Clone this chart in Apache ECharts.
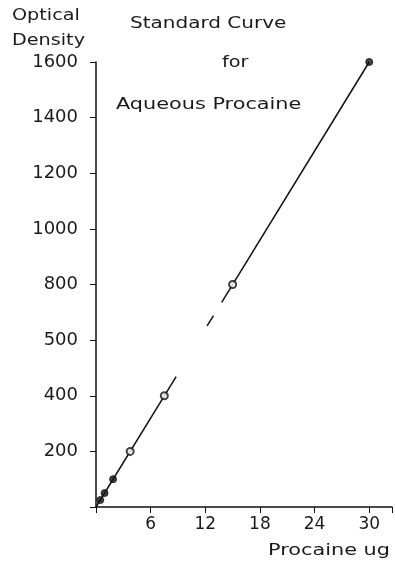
<!DOCTYPE html>
<html><head><meta charset="utf-8">
<script src="https://cdn.jsdelivr.net/npm/echarts@6/dist/echarts.min.js"></script>
<style>html,body{margin:0;padding:0;background:#fff}#c{width:395px;height:570px}</style>
</head><body><div id="c"></div>
<script>
// Data
const procaineUg = [0.47, 0.94, 1.875, 3.75, 7.5, 15, 30];
const opticalDensity = [25, 50, 100, 200, 400, 800, 1600];
const openPointIndex = [3, 4, 5];
// drawn standard line, broken in the original figure
const lineSeg1 = [[0, 0], [8.8, 469]];
const lineSeg2 = [[12.2, 651], [12.9, 688]];
const lineSeg3 = [[13.8, 736], [30, 1600]];
const yTickLabels = {200: '200', 400: '400', 600: '500', 800: '800', 1000: '1000', 1200: '1200', 1400: '1400', 1600: '1600'};
const xTickLabels = {6: '6', 12: '12', 18: '18', 24: '24', 30: '30'};

const FONT = 'DejaVu Sans';
const INK = '#111';
const TXT = '#1a1a1a';
const chart = echarts.init(document.getElementById('c'), null, {renderer: 'canvas'});
const pts = procaineUg.map((x, i) => ({
  value: [x, opticalDensity[i]],
  itemStyle: openPointIndex.includes(i)
    ? {color: '#fff', borderColor: INK, borderWidth: 2}
    : {color: INK, borderColor: INK, borderWidth: 1}
}));
const lineStyle = {color: INK, width: 1.5};
function seg(d){return {type:'line', data:d, symbol:'none', lineStyle, silent:true, z:2};}
const tfont = '16px "DejaVu Sans"';
function txt(text, x, y, sx){
  return {type:'text', x, y, scaleX: sx, style:{text, font: tfont, fill: TXT, textVerticalAlign:'middle'}};
}
chart.setOption({
  animation: false,
  grid: {left: 96, right: 0, top: 62, bottom: 63},
  xAxis: {
    type: 'value', min: 0, max: 32.5, interval: 6,
    axisLine: {lineStyle: {color: INK, width: 1.5}},
    axisTick: {show: true, length: 6, lineStyle: {color: INK}},
    splitLine: {show: false},
    axisLabel: {color: TXT, fontFamily: FONT, fontSize: 17, margin: 9,
      formatter: v => xTickLabels[v] || ''}
  },
  yAxis: {
    type: 'value', min: 0, max: 1600, interval: 200,
    axisLine: {show: true, lineStyle: {color: INK, width: 1.5}},
    axisTick: {show: true, length: 6, lineStyle: {color: INK}},
    splitLine: {show: false},
    axisLabel: {color: TXT, fontFamily: FONT, fontSize: 18, margin: 18,
      formatter: v => yTickLabels[v] || ''}
  },
  series: [
    seg(lineSeg1), seg(lineSeg2), seg(lineSeg3),
    {type: 'scatter', data: pts, symbol: 'circle', symbolSize: 7, z: 3}
  ],
  graphic: [
    txt('Optical', 12, 16, 1.2),
    txt('Density', 12, 41, 1.2),
    txt('Standard Curve', 130, 24, 1.25),
    txt('for', 222, 63, 1.2),
    txt('Aqueous Procaine', 116, 105, 1.3),
    txt('Procaine ug', 268, 551, 1.3)
  ]
});
</script></body></html>
